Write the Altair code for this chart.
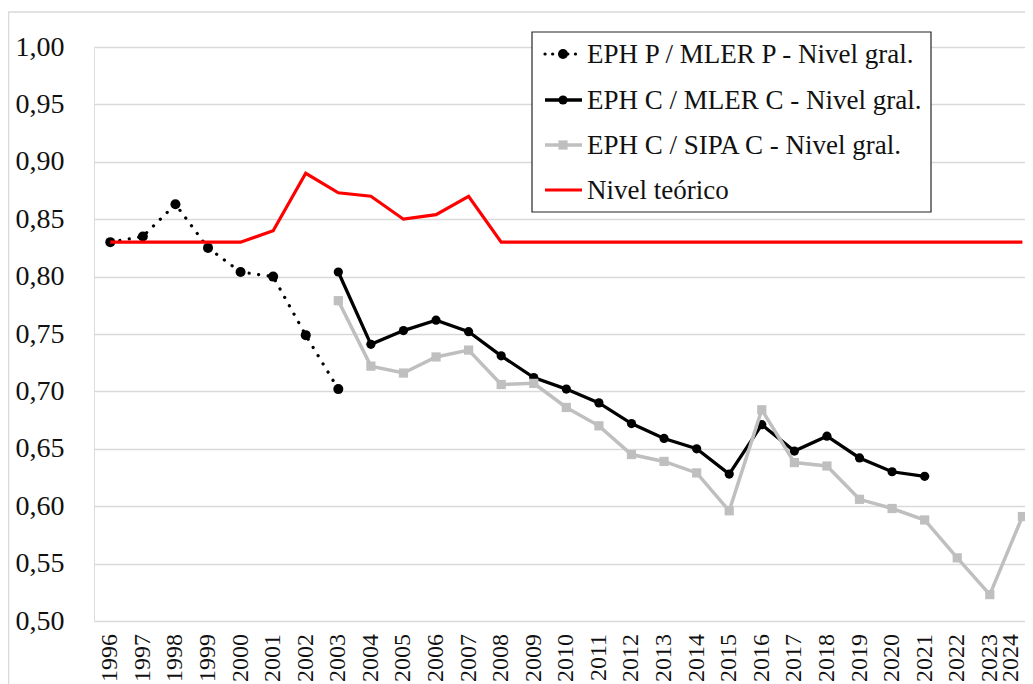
import altair as alt
import pandas as pd

# ---------------- data ----------------
years_all = [1996, 1997, 1998, 1999, 2000, 2001, 2002, 2003, 2004, 2005, 2006, 2007, 2008, 2009,
             2010, 2011, 2012, 2013, 2014, 2015, 2016, 2017, 2018, 2019, 2020, 2021, 2022, 2023, 2024]

years_p = [1996, 1997, 1998, 1999, 2000, 2001, 2002, 2003]
eph_p_mler_p = [0.830, 0.835, 0.863, 0.825, 0.804, 0.800, 0.749, 0.702]

years_c = [2003, 2004, 2005, 2006, 2007, 2008, 2009, 2010, 2011, 2012, 2013, 2014, 2015, 2016,
           2017, 2018, 2019, 2020, 2021]
eph_c_mler_c = [0.804, 0.741, 0.753, 0.762, 0.752, 0.731, 0.712, 0.702, 0.690, 0.672, 0.659,
                0.650, 0.628, 0.671, 0.648, 0.661, 0.642, 0.630, 0.626]

years_sipa = [2003, 2004, 2005, 2006, 2007, 2008, 2009, 2010, 2011, 2012, 2013, 2014, 2015, 2016,
              2017, 2018, 2019, 2020, 2021, 2022, 2023, 2024]
eph_c_sipa_c = [0.779, 0.722, 0.716, 0.730, 0.736, 0.706, 0.707, 0.686, 0.670, 0.645, 0.639,
                0.629, 0.596, 0.684, 0.638, 0.635, 0.606, 0.598, 0.588, 0.555, 0.523, 0.591]

nivel_teorico = [0.830, 0.830, 0.830, 0.830, 0.830, 0.840, 0.890, 0.873, 0.870, 0.850, 0.854,
                 0.870, 0.830, 0.830, 0.830, 0.830, 0.830, 0.830, 0.830, 0.830, 0.830, 0.830,
                 0.830, 0.830, 0.830, 0.830, 0.830, 0.830, 0.830]

y_ticks = [0.50, 0.55, 0.60, 0.65, 0.70, 0.75, 0.80, 0.85, 0.90, 0.95, 1.00]

legend_labels = ["EPH P / MLER P - Nivel gral.", "EPH C / MLER C - Nivel gral.",
                 "EPH C / SIPA C - Nivel gral.", "Nivel teórico"]

FONT = "Liberation Serif"
W, H = 931, 574

df_p = pd.DataFrame({"year": years_p, "value": eph_p_mler_p})
df_c = pd.DataFrame({"year": years_c, "value": eph_c_mler_c})
df_s = pd.DataFrame({"year": years_sipa, "value": eph_c_sipa_c})
df_t = pd.DataFrame({"year": years_all, "value": nivel_teorico})
df_lab = pd.DataFrame({"year": years_all, "label": [str(y) for y in years_all]})

x_enc = alt.X("year:Q",
              scale=alt.Scale(domain=[1995.5, 2024.08], nice=False, zero=False),
              axis=None)
y_enc = alt.Y("value:Q",
              scale=alt.Scale(domain=[0.5, 1.0], nice=False, zero=False),
              axis=alt.Axis(values=y_ticks, title=None, grid=True, gridColor="#D9D9D9",
                            gridWidth=1.3, ticks=False, domain=False, labelPadding=30,
                            labelExpr="replace(format(datum.value, '.2f'), '.', ',')",
                            labelFont=FONT, labelFontSize=28, labelColor="#111111"))

base_p = alt.Chart(df_p).encode(x=x_enc, y=y_enc)
line_p = base_p.mark_line(color="black", strokeWidth=3.2, strokeDash=[0.1, 9.5], strokeCap="round")
pts_p = base_p.mark_point(shape="circle", filled=True, color="black", size=100, opacity=1)

base_c = alt.Chart(df_c).encode(x="year:Q", y="value:Q")
line_c = base_c.mark_line(color="black", strokeWidth=3.3)
pts_c = base_c.mark_point(shape="circle", filled=True, color="black", size=85, opacity=1)

base_s = alt.Chart(df_s).encode(x="year:Q", y="value:Q")
line_s = base_s.mark_line(color="#BFBFBF", strokeWidth=3.5)
pts_s = base_s.mark_point(shape="square", filled=True, color="#BFBFBF", size=85, opacity=1)

line_t = alt.Chart(df_t).mark_line(color="#FF0000", strokeWidth=3.2).encode(x="year:Q", y="value:Q")

# x-axis year labels (rotated), placed through the x scale
lab_base = alt.Chart(df_lab)
x_labels = lab_base.mark_text(
    angle=270, align="right", baseline="middle", font=FONT, fontSize=24, color="#111111"
).encode(x="year:Q", y=alt.value(H + 13), text="label:N").transform_filter("datum.year < 2024")
x_label_last = lab_base.mark_text(
    angle=270, align="right", baseline="middle", font=FONT, fontSize=24, color="#111111",
    xOffset=-11
).encode(x="year:Q", y=alt.value(H + 13), text="label:N").transform_filter("datum.year >= 2024")

# ---------------- frame + manual legend ----------------
dummy = pd.DataFrame({"k": [0]})
frame_top = alt.Chart(dummy).mark_rule(color="#D9D9D9", strokeWidth=1.5).encode(
    x=alt.value(-86), x2=alt.value(W), y=alt.value(-35))
frame_left = alt.Chart(dummy).mark_rule(color="#D9D9D9", strokeWidth=1.5).encode(
    x=alt.value(-85.5), y=alt.value(-35), y2=alt.value(H + 70))

box = alt.Chart(dummy).mark_rect(fill="white", stroke="#262626", strokeWidth=1.2).encode(
    x=alt.value(438), x2=alt.value(837), y=alt.value(-15), y2=alt.value(165))

row_y = [7, 53, 98, 143]
leg_layers = [box]
styles = [
    dict(color="black", width=3.2, dash=[0.1, 7.5], shape="circle", size=100),
    dict(color="black", width=3.3, dash=None, shape="circle", size=85),
    dict(color="#BFBFBF", width=3.5, dash=None, shape="square", size=85),
    dict(color="#FF0000", width=3.2, dash=None, shape=None, size=0),
]
for lbl, yy, st in zip(legend_labels, row_y, styles):
    rule_kw = dict(color=st["color"], strokeWidth=st["width"])
    if st["dash"]:
        rule_kw.update(strokeDash=st["dash"], strokeCap="round")
    leg_layers.append(alt.Chart(dummy).mark_rule(**rule_kw).encode(
        x=alt.value(451), x2=alt.value(488), y=alt.value(yy)))
    if st["shape"]:
        leg_layers.append(alt.Chart(dummy).mark_point(
            shape=st["shape"], filled=True, color=st["color"], size=st["size"], opacity=1).encode(
            x=alt.value(469), y=alt.value(yy)))
    leg_layers.append(alt.Chart(dummy).mark_text(
        text=lbl, font=FONT, fontSize=27, align="left", baseline="middle", color="#111111").encode(
        x=alt.value(493), y=alt.value(yy + 1)))

chart = alt.layer(
    line_p, pts_p, line_c, pts_c, line_s, pts_s, line_t, x_labels, x_label_last,
    frame_top, frame_left, *leg_layers
).properties(
    width=W, height=H,
    autosize=alt.AutoSizeParams(type="none"),
    padding={"left": 86, "top": 39, "right": 0, "bottom": 63},
).configure_view(stroke=None).configure(background="white")

chart.save("out.html", embed_options={"renderer": "svg", "actions": False})
